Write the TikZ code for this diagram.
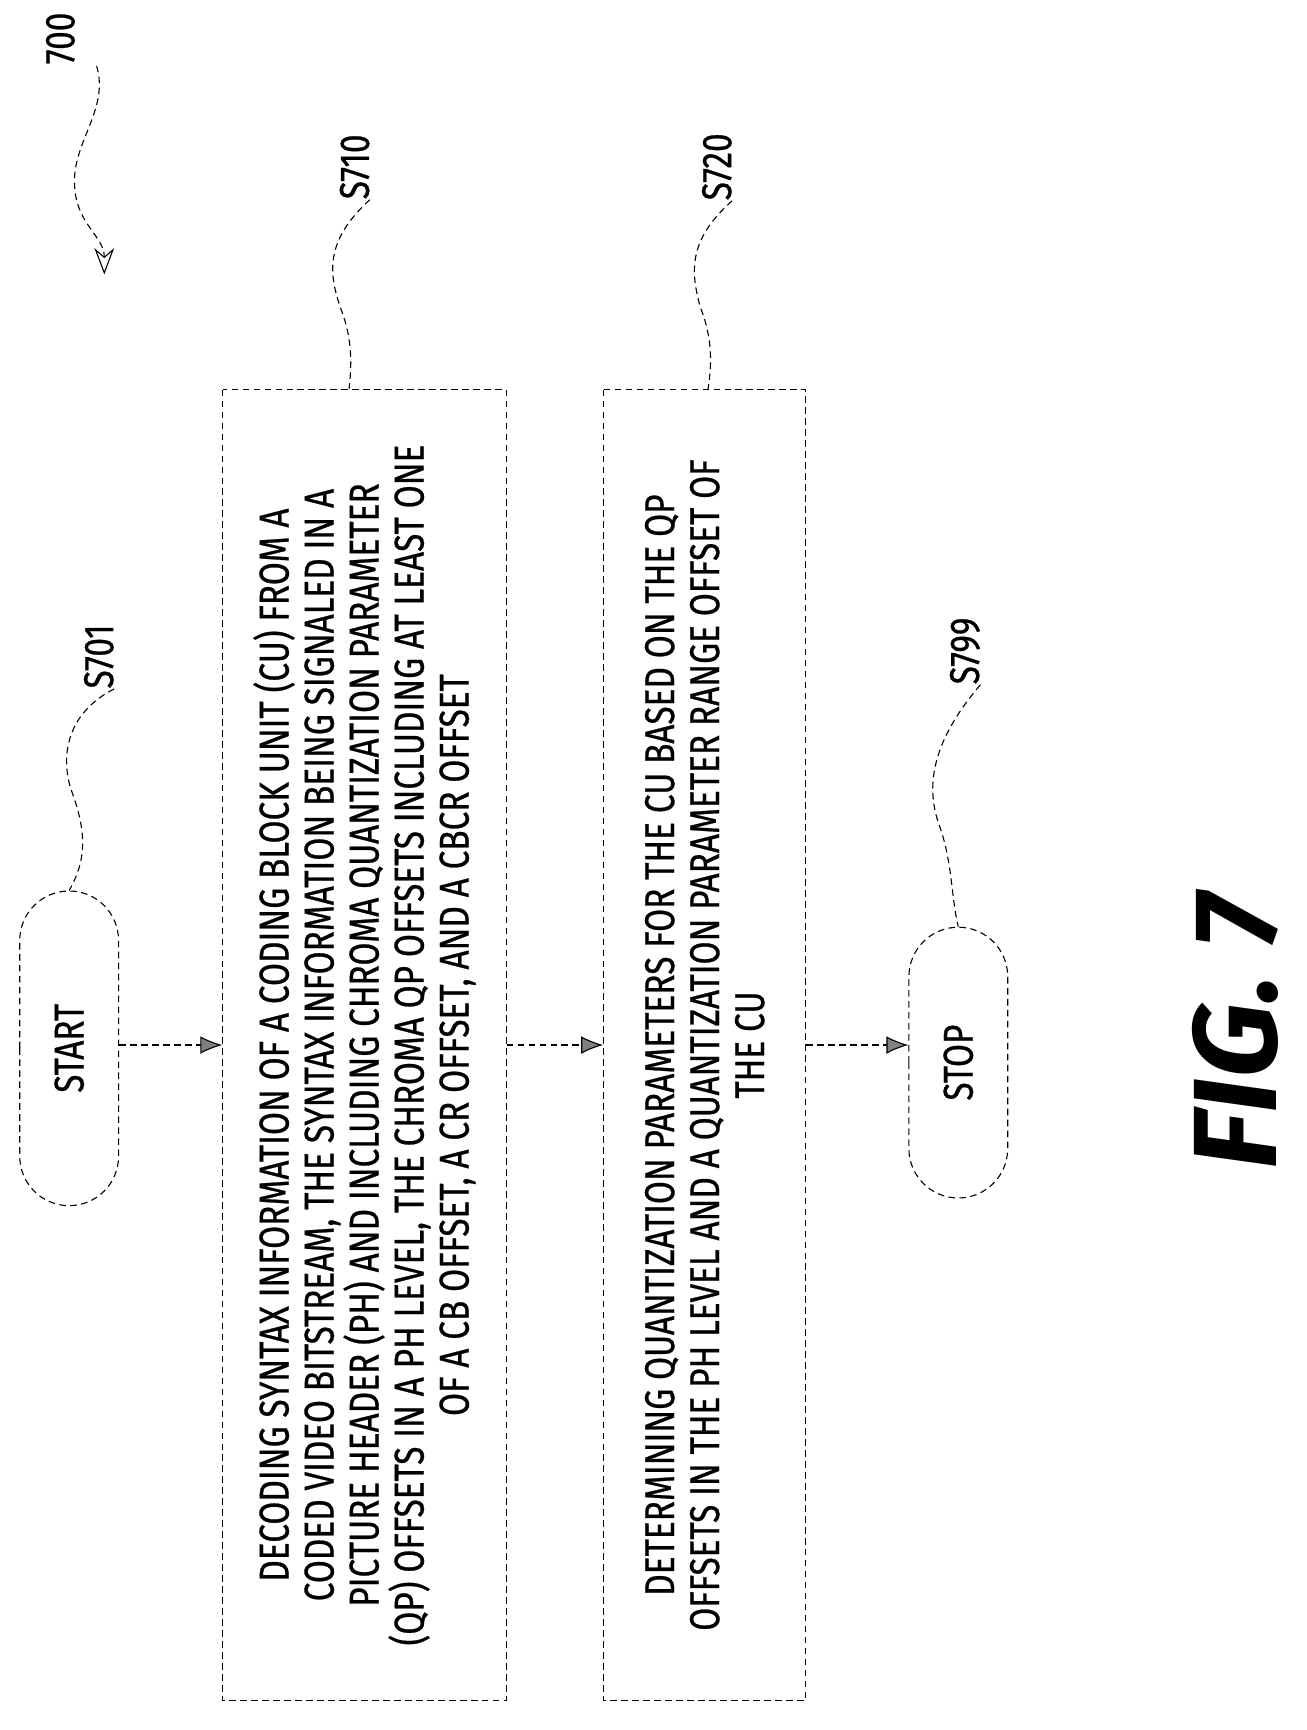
\documentclass[tikz,border=0pt]{standalone}
\usepackage{fontspec}
\setmainfont[FakeStretch=0.8,FakeBold=0.6]{Fira Sans}
\newfontfamily\figfont{Fira Sans}
\usetikzlibrary{shapes.misc,arrows.meta}
\begin{document}
\begin{tikzpicture}[x=0.5pt,y=-0.5pt,
  box/.style={draw,densely dashed,line width=0.5pt,rotate=90,align=center,font=\fontsize{19}{20.5}\selectfont,inner sep=2pt},
  term/.style={draw,densely dashed,line width=0.5pt,rounded rectangle,rotate=90,font=\fontsize{19}{20.5}\selectfont,minimum height=45pt},
  arr/.style={densely dashed,line width=0.5pt,-{Latex[length=10pt,width=8pt,fill=gray]}},
  sq/.style={densely dashed,line width=0.5pt},
  lab/.style={rotate=90,font=\fontsize{19}{20.5}\selectfont,inner sep=0pt}]
\useasboundingbox (0,0) rectangle (1190,1576);
\node[term,minimum width=150pt] (start) at (63,955) {START};
\node[box,minimum width=597pt,minimum height=129pt] (b1) at (332,952) {DECODING SYNTAX INFORMATION OF A CODING BLOCK UNIT (CU) FROM A\\ CODED VIDEO BITSTREAM, THE SYNTAX INFORMATION BEING SIGNALED IN A\\ PICTURE HEADER (PH) AND INCLUDING CHROMA QUANTIZATION PARAMETER\\ (QP) OFFSETS IN A PH LEVEL, THE CHROMA QP OFFSETS INCLUDING AT LEAST ONE\\ OF A CB OFFSET, A CR OFFSET, AND A CBCR OFFSET};
\node[box,minimum width=597pt,minimum height=92pt] (b2) at (642,952) {DETERMINING QUANTIZATION PARAMETERS FOR THE CU BASED ON THE QP\\ OFFSETS IN THE PH LEVEL AND A QUANTIZATION PARAMETER RANGE OFFSET OF\\ THE CU};
\node[term,minimum width=130pt] (stop) at (873,968) {STOP};
\draw[arr] (start.south |- b1.center) -- (b1.north);
\draw[arr] (b1.south) -- (b2.north);
\draw[arr] (b2.south) -- (b2.south -| stop.north);
\node[rotate=90,font=\figfont\bfseries\itshape\fontsize{54}{56}\selectfont] (fig) at (1125,940) {FIG. 7};
\node[lab] (l700) at (55,35) {700};
\node[lab] (l701) at (90,598) {S701};
\node[lab] (l710) at (323,152) {S710};
\node[lab] (l720) at (653,152) {S720};
\node[lab] (l799) at (879,593) {S799};
\draw[sq] (l701.south west) .. controls (60,650) and (55,690) .. (65,720) .. controls (80,760) and (78,785) .. (start.east);
\draw[sq] (l710.south west) .. controls (295,220) and (300,250) .. (310,280) .. controls (322,310) and (320,335) .. (b1.east -| 318,0);
\draw[sq] (l720.south west) .. controls (625,220) and (630,250) .. (638,280) .. controls (650,310) and (648,335) .. (b2.east -| 645,0);
\draw[sq] (l799.south west) .. controls (845,680) and (845,720) .. (855,750) .. controls (868,785) and (866,815) .. (stop.east);
\draw[sq,-{Stealth[open,length=12pt,width=9pt]}] (88,60) .. controls (100,100) and (65,130) .. (68,170) .. controls (70,205) and (95,215) .. (95,250);
\end{tikzpicture}
\end{document}
